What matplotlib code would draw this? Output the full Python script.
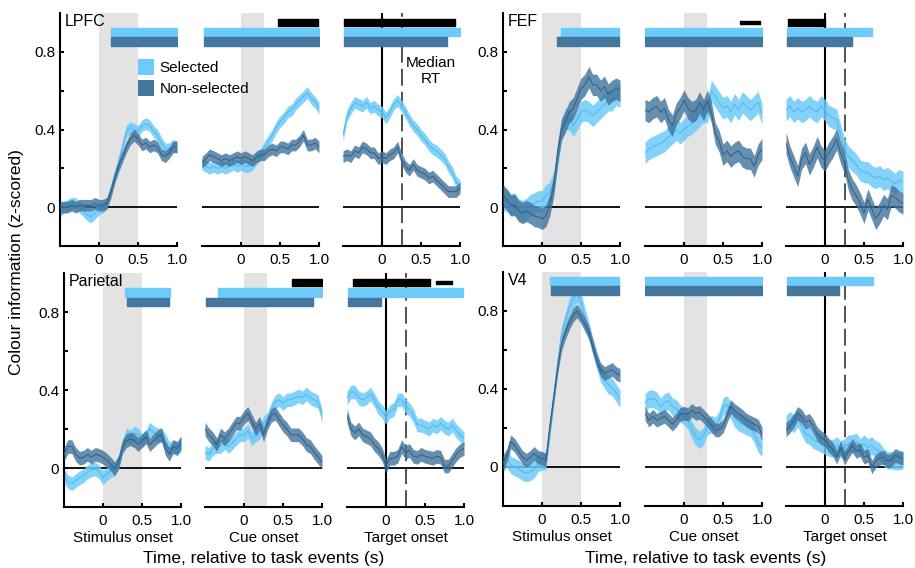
import numpy as np
import matplotlib.pyplot as plt
from matplotlib.patches import Patch

plt.rcParams['font.family'] = ['Liberation Sans', 'DejaVu Sans']

# sample times of every trace (s, relative to the event)
t = np.linspace(-0.5, 1.0, 31)

events = ["Stimulus onset", "Cue onset", "Target onset"]
epochs = [(0.0, 0.5), (0.0, 0.3), None]   # grey: stimulus / cue on screen
median_rt = 0.26

# ---- LPFC ----
lpfc_stim_sel = [-0.02, 0.0, 0.01, 0.02, 0.02, 0.0, -0.02, -0.04, -0.05, -0.03, -0.01, 0.0, 0.02, 0.09, 0.16, 0.23,
                 0.31, 0.39, 0.41, 0.40, 0.39, 0.42, 0.43, 0.42, 0.39, 0.37, 0.33, 0.30, 0.30, 0.32, 0.31]
lpfc_stim_non = [0.0, 0.0, 0.0, 0.01, 0.0, 0.01, 0.01, 0.01, 0.01, 0.02, 0.01, 0.01, 0.02, 0.075, 0.15, 0.21,
                 0.26, 0.31, 0.35, 0.37, 0.35, 0.32, 0.33, 0.31, 0.32, 0.31, 0.27, 0.26, 0.28, 0.31, 0.31]
lpfc_cue_sel = [0.22, 0.21, 0.20, 0.21, 0.20, 0.21, 0.20, 0.21, 0.22, 0.21, 0.22, 0.21, 0.21, 0.22, 0.25, 0.27,
                0.31, 0.34, 0.37, 0.41, 0.44, 0.46, 0.49, 0.50, 0.53, 0.55, 0.57, 0.59, 0.56, 0.54, 0.51]
lpfc_cue_non = [0.23, 0.25, 0.27, 0.26, 0.25, 0.24, 0.25, 0.24, 0.25, 0.26, 0.25, 0.26, 0.25, 0.24, 0.26, 0.27,
                0.27, 0.29, 0.30, 0.29, 0.31, 0.31, 0.30, 0.32, 0.32, 0.34, 0.37, 0.32, 0.32, 0.33, 0.31]
lpfc_tgt_sel = [0.37, 0.47, 0.51, 0.54, 0.53, 0.52, 0.54, 0.51, 0.52, 0.50, 0.49, 0.46, 0.49, 0.53, 0.55, 0.52,
                0.49, 0.45, 0.42, 0.40, 0.37, 0.35, 0.32, 0.30, 0.29, 0.27, 0.25, 0.21, 0.18, 0.13, 0.11]
lpfc_tgt_non = [0.26, 0.27, 0.26, 0.29, 0.28, 0.31, 0.30, 0.28, 0.28, 0.25, 0.26, 0.25, 0.27, 0.28, 0.31, 0.25,
                0.21, 0.19, 0.22, 0.19, 0.18, 0.17, 0.15, 0.16, 0.14, 0.12, 0.10, 0.08, 0.08, 0.08, 0.10]

# ---- FEF ----
fef_stim_sel = [0.04, 0.03, 0.01, 0.02, -0.01, -0.02, -0.01, 0.01, 0.02, 0.03, 0.03, 0.06, 0.075, 0.13, 0.25, 0.40,
                0.46, 0.45, 0.42, 0.45, 0.49, 0.50, 0.49, 0.47, 0.49, 0.51, 0.53, 0.55, 0.55, 0.58, 0.57]
fef_stim_non = [0.06, 0.04, 0.01, 0.01, -0.02, -0.03, -0.02, -0.03, -0.045, -0.05, -0.06, -0.045, 0.01, 0.11, 0.28,
                0.40, 0.44, 0.49, 0.51, 0.56, 0.61, 0.63, 0.67, 0.63, 0.63, 0.60, 0.62, 0.58, 0.60, 0.61, 0.60]
fef_cue_sel = [0.28, 0.30, 0.31, 0.32, 0.33, 0.34, 0.36, 0.38, 0.40, 0.38, 0.40, 0.42, 0.43, 0.45, 0.47, 0.49,
               0.49, 0.60, 0.57, 0.54, 0.51, 0.52, 0.49, 0.53, 0.50, 0.54, 0.52, 0.50, 0.52, 0.54, 0.48]
fef_cue_non = [0.50, 0.49, 0.51, 0.52, 0.49, 0.51, 0.45, 0.42, 0.48, 0.51, 0.55, 0.51, 0.49, 0.50, 0.54, 0.50,
               0.55, 0.49, 0.38, 0.34, 0.27, 0.29, 0.26, 0.28, 0.29, 0.26, 0.25, 0.25, 0.21, 0.27, 0.30]
fef_tgt_sel = [0.50, 0.52, 0.49, 0.51, 0.49, 0.50, 0.52, 0.50, 0.49, 0.52, 0.50, 0.47, 0.46, 0.45, 0.37, 0.30,
               0.26, 0.24, 0.22, 0.19, 0.18, 0.18, 0.16, 0.15, 0.16, 0.14, 0.15, 0.135, 0.12, 0.14, 0.13]
fef_tgt_non = [0.33, 0.26, 0.21, 0.16, 0.25, 0.28, 0.22, 0.26, 0.31, 0.26, 0.24, 0.28, 0.31, 0.35, 0.28, 0.23,
               0.14, 0.09, 0.06, 0.02, -0.03, 0.04, -0.01, -0.06, -0.03, 0.01, -0.01, 0.06, 0.05, 0.03, 0.02]

# ---- Parietal ----
par_stim_sel = [-0.04, -0.07, -0.08, -0.065, -0.05, -0.04, -0.02, -0.01, -0.005, -0.02, -0.05, -0.03, -0.015,
                -0.005, 0.03, 0.11, 0.17, 0.16, 0.18, 0.17, 0.14, 0.16, 0.20, 0.18, 0.17, 0.17, 0.14, 0.10, 0.11,
                0.10, 0.12]
par_stim_non = [0.07, 0.11, 0.11, 0.07, 0.05, 0.055, 0.07, 0.055, 0.07, 0.065, 0.055, 0.04, 0.02, -0.005, 0.03,
                0.11, 0.14, 0.15, 0.14, 0.12, 0.14, 0.16, 0.12, 0.14, 0.16, 0.17, 0.10, 0.07, 0.11, 0.10, 0.13]
par_cue_sel = [0.08, 0.07, 0.10, 0.11, 0.11, 0.13, 0.11, 0.13, 0.15, 0.17, 0.17, 0.19, 0.15, 0.17, 0.18, 0.23,
               0.25, 0.30, 0.34, 0.35, 0.33, 0.35, 0.35, 0.36, 0.37, 0.36, 0.38, 0.36, 0.35, 0.34, 0.27]
par_cue_non = [0.20, 0.17, 0.15, 0.12, 0.17, 0.15, 0.17, 0.20, 0.23, 0.23, 0.26, 0.28, 0.24, 0.20, 0.23, 0.17,
               0.23, 0.27, 0.28, 0.25, 0.22, 0.20, 0.17, 0.17, 0.17, 0.15, 0.12, 0.11, 0.08, 0.055, 0.03]
par_tgt_sel = [0.36, 0.39, 0.39, 0.36, 0.35, 0.36, 0.38, 0.35, 0.31, 0.29, 0.26, 0.29, 0.30, 0.35, 0.35, 0.32,
               0.30, 0.27, 0.22, 0.22, 0.21, 0.20, 0.22, 0.21, 0.23, 0.21, 0.20, 0.22, 0.19, 0.17, 0.15]
par_tgt_non = [0.27, 0.20, 0.18, 0.20, 0.17, 0.16, 0.15, 0.12, 0.10, 0.07, 0.01, 0.05, 0.05, 0.06, 0.11, 0.08,
               0.09, 0.06, 0.055, 0.07, 0.06, 0.055, 0.05, 0.06, 0.055, 0.01, 0.01, 0.04, 0.07, 0.09, 0.10]

# ---- V4 ----
v4_stim_sel = [0.02, 0.045, 0.01, 0.0, -0.01, -0.025, -0.03, -0.025, -0.01, 0.02, 0.03, 0.03, 0.19, 0.36, 0.53,
               0.68, 0.75, 0.82, 0.86, 0.89, 0.85, 0.77, 0.70, 0.62, 0.55, 0.48, 0.45, 0.42, 0.41, 0.38, 0.35]
v4_stim_non = [0.02, 0.06, 0.13, 0.11, 0.08, 0.05, 0.035, 0.05, 0.07, 0.05, 0.045, 0.035, 0.21, 0.36, 0.51,
               0.63, 0.69, 0.74, 0.78, 0.80, 0.77, 0.73, 0.69, 0.62, 0.55, 0.50, 0.48, 0.49, 0.50, 0.48, 0.47]
v4_cue_sel = [0.33, 0.35, 0.35, 0.34, 0.31, 0.33, 0.34, 0.31, 0.30, 0.275, 0.26, 0.24, 0.19, 0.155, 0.14, 0.16,
              0.21, 0.22, 0.21, 0.24, 0.31, 0.32, 0.29, 0.25, 0.23, 0.22, 0.21, 0.20, 0.17, 0.12, 0.10]
v4_cue_non = [0.275, 0.24, 0.26, 0.24, 0.25, 0.26, 0.24, 0.22, 0.24, 0.27, 0.275, 0.27, 0.29, 0.275, 0.28, 0.26,
              0.24, 0.215, 0.19, 0.19, 0.21, 0.26, 0.31, 0.29, 0.275, 0.26, 0.24, 0.23, 0.22, 0.21, 0.17]
v4_tgt_sel = [0.22, 0.24, 0.22, 0.25, 0.21, 0.17, 0.16, 0.14, 0.13, 0.12, 0.11, 0.10, 0.095, 0.11, 0.09, 0.10,
              0.12, 0.12, 0.13, 0.10, 0.12, 0.10, 0.11, 0.09, 0.08, 0.05, 0.035, 0.035, 0.03, 0.03, 0.035]
v4_tgt_non = [0.19, 0.21, 0.24, 0.275, 0.26, 0.23, 0.24, 0.21, 0.17, 0.15, 0.14, 0.11, 0.09, 0.05, 0.10, 0.045,
              0.08, 0.11, 0.08, 0.09, 0.05, 0.06, 0.0, 0.03, 0.045, 0.05, 0.03, 0.035, 0.06, 0.05, 0.045]

# s.e.m. of each area's traces (selected, non-selected)
sem = {"LPFC": (0.03, 0.03), "FEF": (0.055, 0.055), "Parietal": (0.035, 0.035), "V4": (0.045, 0.035)}

# significant periods (s) per event: selected, non-selected, difference (thick / thin)
sig_sel = {"LPFC": [[(0.16, 1.0)], [(-0.48, 1.0)], [(-0.49, 1.0)]],
           "FEF": [[(0.24, 0.99)], [(-0.5, 1.0)], [(-0.49, 0.60)]],
           "Parietal": [[(0.28, 0.86)], [(-0.33, 1.0)], [(-0.49, 0.99)]],
           "V4": [[(0.10, 0.99)], [(-0.5, 1.0)], [(-0.49, 0.62)]]}
sig_non = {"LPFC": [[(0.16, 1.0)], [(-0.48, 1.0)], [(-0.49, 0.83)]],
           "FEF": [[(0.19, 0.99)], [(-0.5, 1.0)], [(-0.49, 0.35)]],
           "Parietal": [[(0.31, 0.84)], [(-0.49, 0.88)], [(-0.49, -0.07)]],
           "V4": [[(0.11, 0.99)], [(-0.5, 1.0)], [(-0.49, 0.18)]]}
sig_diff = {"LPFC": [[], [(0.48, 0.99)], [(-0.49, 0.94)]],
            "FEF": [[], [], [(-0.47, 0.0)]],
            "Parietal": [[], [(0.62, 1.0)], [(-0.42, 0.57)]],
            "V4": [[], [], []]}
sig_diff_thin = {"LPFC": [[], [], []],
                 "FEF": [[], [(0.72, 0.97)], []],
                 "Parietal": [[], [], [(0.64, 0.84)]],
                 "V4": [[], [], []]}

traces = {
    "LPFC": [(lpfc_stim_sel, lpfc_stim_non), (lpfc_cue_sel, lpfc_cue_non), (lpfc_tgt_sel, lpfc_tgt_non)],
    "FEF": [(fef_stim_sel, fef_stim_non), (fef_cue_sel, fef_cue_non), (fef_tgt_sel, fef_tgt_non)],
    "Parietal": [(par_stim_sel, par_stim_non), (par_cue_sel, par_cue_non), (par_tgt_sel, par_tgt_non)],
    "V4": [(v4_stim_sel, v4_stim_non), (v4_cue_sel, v4_cue_non), (v4_tgt_sel, v4_tgt_non)],
}

LIGHT, LIGHT_LINE = "#6ccafa", "#52b6ea"
DARK, DARK_LINE = "#40729a", "#2f5f86"
BAR_LIGHT, BAR_DARK = "#6ccbfb", "#45769e"

W, H = 915, 568
fig = plt.figure(figsize=(W / 100, H / 100), dpi=100)

# panel placement in pixels: left edges, top, bottom
layout = {"LPFC": ([60, 202, 343], 13, 246), "FEF": ([503, 645, 786], 13, 246),
          "Parietal": ([64, 205, 347], 273, 507), "V4": ([503, 645, 786], 272, 506)}
bottom_row = {"Parietal", "V4"}

for area, (lefts, top, bottom) in layout.items():
    s_sel, s_non = sem[area]
    has_diff = any(len(d) for d in sig_diff[area])
    y_diff, y_sel, y_non = (0.952, 0.90, 0.853) if has_diff else (None, 0.955, 0.905)
    for i, left in enumerate(lefts):
        ax = fig.add_axes([left / W, 1 - bottom / H, 117 / W, (bottom - top) / H])
        ax.patch.set_visible(False)
        ax.set_xlim(-0.5, 1.0)
        ax.set_ylim(-0.2, 1.0)
        if epochs[i]:
            ax.axvspan(*epochs[i], color="#e3e3e3", lw=0, zorder=0)
        ax.axhline(0, color="k", lw=1.3, zorder=1)
        if i == 2:
            ax.axvline(0, color="k", lw=1.5, zorder=1)
            ax.axvline(median_rt, color="#222222", lw=1.1, dashes=(11, 4), zorder=1)

        sel = np.array(traces[area][i][0])
        non = np.array(traces[area][i][1])
        ax.fill_between(t, sel - s_sel, sel + s_sel, color=LIGHT, alpha=0.85, lw=0, zorder=2)
        ax.plot(t, sel, color=LIGHT_LINE, lw=0.7, zorder=2)
        ax.fill_between(t, non - s_non, non + s_non, color=DARK, alpha=0.8, lw=0, zorder=3)
        ax.plot(t, non, color=DARK_LINE, lw=0.7, zorder=3)

        for a, b in sig_sel[area][i]:
            ax.broken_barh([(a, b - a)], (y_sel - 0.021, 0.042), color=BAR_LIGHT, zorder=4)
        for a, b in sig_non[area][i]:
            ax.broken_barh([(a, b - a)], (y_non - 0.021, 0.042), color=BAR_DARK, zorder=4)
        for a, b in sig_diff[area][i]:
            ax.broken_barh([(a, b - a)], (y_diff - 0.019, 0.038), color="k", zorder=4)
        for a, b in sig_diff_thin[area][i]:
            ax.broken_barh([(a, b - a)], (y_diff - 0.008, 0.016), color="k", zorder=4)

        for side in ["top", "right"]:
            ax.spines[side].set_visible(False)
        ax.spines["bottom"].set_linewidth(1.5)
        ax.set_xticks([0, 0.5, 1.0])
        ax.set_xticklabels(["0", "0.5", "1.0"])
        ax.tick_params(axis="both", direction="in", length=3, width=1.5, labelsize=11)
        ax.tick_params(axis="x", pad=5)
        if i == 0:
            ax.spines["left"].set_linewidth(1.5)
            ax.set_yticks([0, 0.2, 0.4, 0.6, 0.8])
            ax.set_yticklabels(["0", "", "0.4", "", "0.8"])
            ax.text(0.04, 0.995, area, transform=ax.transAxes, fontsize=11.5, va="top", ha="left")
        else:
            ax.spines["left"].set_visible(False)
            ax.set_yticks([])
        if area in bottom_row:
            ax.set_xlabel(events[i], fontsize=11, labelpad=2)

        if area == "LPFC" and i == 2:
            ax.text(0.62, 0.70, "Median\nRT", fontsize=11, ha="center", va="center", linespacing=1.2)

# legend on the figure so that it sits above the neighbouring panel
fig.legend(handles=[Patch(color=BAR_LIGHT, lw=0), Patch(color=BAR_DARK, lw=0)],
           labels=["Selected", "Non-selected"], loc="upper left",
           bbox_to_anchor=(138 / W, 1 - 59 / H), frameon=False, fontsize=11,
           handlelength=1.05, handleheight=1.2, handletextpad=0.35,
           labelspacing=0.35, borderpad=0, borderaxespad=0)

fig.text(264 / W, 1 - 558 / H, "Time, relative to task events (s)", fontsize=12.5, ha="center", va="center")
fig.text(706 / W, 1 - 558 / H, "Time, relative to task events (s)", fontsize=12.5, ha="center", va="center")
fig.text(17 / W, 1 - 262 / H, "Colour information (z-scored)", fontsize=12.5, rotation=90,
         ha="center", va="center")

fig.savefig("out.png", dpi=100)
